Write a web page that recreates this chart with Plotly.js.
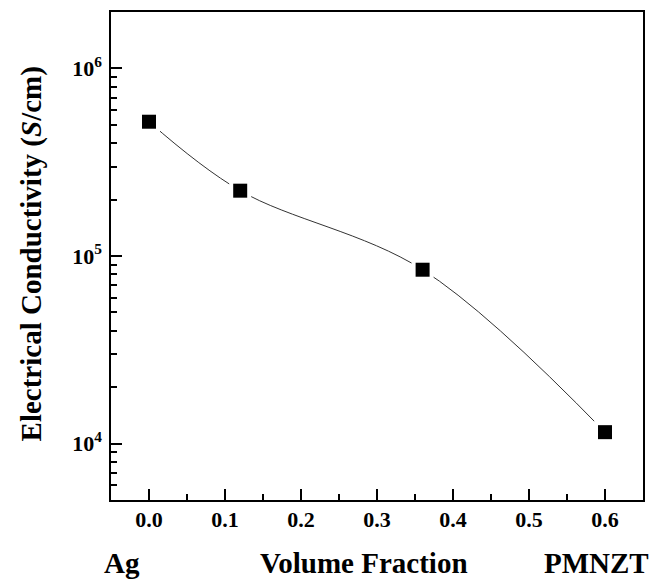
<!DOCTYPE html>
<html>
<head>
<meta charset="utf-8">
<script src="https://cdn.plot.ly/plotly-3.0.1.min.js"></script>
<style>
  html, body { margin: 0; padding: 0; background: #ffffff; }
  #chart { width: 664px; height: 580px; }
</style>
</head>
<body>
<div id="chart"></div>
<script>
// Data
const volumeFraction = [0.0, 0.12, 0.36, 0.6];
const conductivity = [5.2e5, 2.23e5, 8.45e4, 1.15e4];
const yTickValues = [1e4, 1e5, 1e6];
const yTickLabels = ['10<sup>4</sup>', '10<sup>5</sup>', '10<sup>6</sup>'];
const yMinorTicks = [5000, 6000, 7000, 8000, 9000,
                     20000, 30000, 40000, 50000, 60000, 70000, 80000, 90000,
                     200000, 300000, 400000, 500000, 600000, 700000, 800000, 900000,
                     2000000];
const xTickValues = [0.0, 0.1, 0.2, 0.3, 0.4, 0.5, 0.6];
const xTickLabels = ['0.0', '0.1', '0.2', '0.3', '0.4', '0.5', '0.6'];
const xMinorTicks = [0.05, 0.15, 0.25, 0.35, 0.45, 0.55];
const yTitle = 'Electrical Conductivity (<i>S</i>/cm)';
const leftLabel = 'Ag';
const midLabel = 'Volume Fraction';
const rightLabel = 'PMNZT';

const serif = 'Liberation Serif, Times New Roman, serif';
const xRange = [-0.05, 0.65];
const yRange = [Math.log10(5000), Math.log10(2e6)];

const traces = [
  {
    x: volumeFraction, y: conductivity, type: 'scatter', mode: 'lines',
    line: { shape: 'spline', smoothing: 1, color: '#333333', width: 1 },
    hoverinfo: 'skip', showlegend: false
  },
  {
    x: volumeFraction, y: conductivity, type: 'scatter', mode: 'markers',
    marker: { symbol: 'square', size: 22, color: '#ffffff' },
    hoverinfo: 'skip', showlegend: false
  },
  {
    x: volumeFraction, y: conductivity, type: 'scatter', mode: 'markers',
    marker: { symbol: 'square', size: 14, color: '#000000' },
    showlegend: false
  },
  {
    x: volumeFraction, y: conductivity, xaxis: 'x2', yaxis: 'y2',
    type: 'scatter', mode: 'markers', marker: { opacity: 0 },
    hoverinfo: 'skip', showlegend: false
  }
];

const tickFont = { family: serif, size: 22, color: '#000', weight: 'bold' };
const labelFont = { family: serif, size: 29, color: '#000', weight: 'bold' };

const layout = {
  width: 664, height: 580,
  margin: { l: 111, r: 21, t: 12, b: 80, pad: 0 },
  paper_bgcolor: '#ffffff', plot_bgcolor: '#ffffff',
  showlegend: false,
  // primary axes: frame + minor ticks
  xaxis: {
    range: xRange,
    tickmode: 'array', tickvals: xMinorTicks, showticklabels: false,
    ticks: 'inside', ticklen: 6, tickwidth: 2, tickcolor: '#000',
    showline: true, linecolor: '#000', linewidth: 2, mirror: true,
    showgrid: false, zeroline: false
  },
  yaxis: {
    type: 'log', range: yRange,
    tickmode: 'array', tickvals: yMinorTicks, showticklabels: false,
    ticks: 'inside', ticklen: 6, tickwidth: 2, tickcolor: '#000',
    showline: true, linecolor: '#000', linewidth: 2, mirror: true,
    showgrid: false, zeroline: false
  },
  // overlay axes: major ticks + labels
  xaxis2: {
    overlaying: 'x', anchor: 'y', side: 'bottom',
    range: xRange,
    tickmode: 'array', tickvals: xTickValues, ticktext: xTickLabels,
    ticks: 'inside', ticklen: 11, tickwidth: 2, tickcolor: '#000',
    showline: false, showgrid: false, zeroline: false,
    tickfont: tickFont, ticklabelstandoff: 4
  },
  yaxis2: {
    overlaying: 'y', anchor: 'x', side: 'left',
    type: 'log', range: yRange,
    tickmode: 'array', tickvals: yTickValues, ticktext: yTickLabels,
    ticks: 'inside', ticklen: 11, tickwidth: 2, tickcolor: '#000',
    showline: false, showgrid: false, zeroline: false,
    tickfont: tickFont, ticklabelstandoff: 8
  },
  annotations: [
    {
      text: yTitle, xref: 'paper', yref: 'paper', x: -0.1496, y: 0.504,
      xanchor: 'center', yanchor: 'middle', textangle: -90, showarrow: false,
      font: labelFont
    },
    {
      text: leftLabel, xref: 'paper', yref: 'paper', x: 0.0212, y: -0.129,
      xanchor: 'center', yanchor: 'middle', showarrow: false, font: labelFont
    },
    {
      text: midLabel, xref: 'paper', yref: 'paper', x: 0.476, y: -0.129,
      xanchor: 'center', yanchor: 'middle', showarrow: false, font: labelFont
    },
    {
      text: rightLabel, xref: 'paper', yref: 'paper', x: 0.913, y: -0.129,
      xanchor: 'center', yanchor: 'middle', showarrow: false, font: labelFont
    }
  ]
};

Plotly.newPlot('chart', traces, layout, { displayModeBar: false, staticPlot: true });
</script>
</body>
</html>
